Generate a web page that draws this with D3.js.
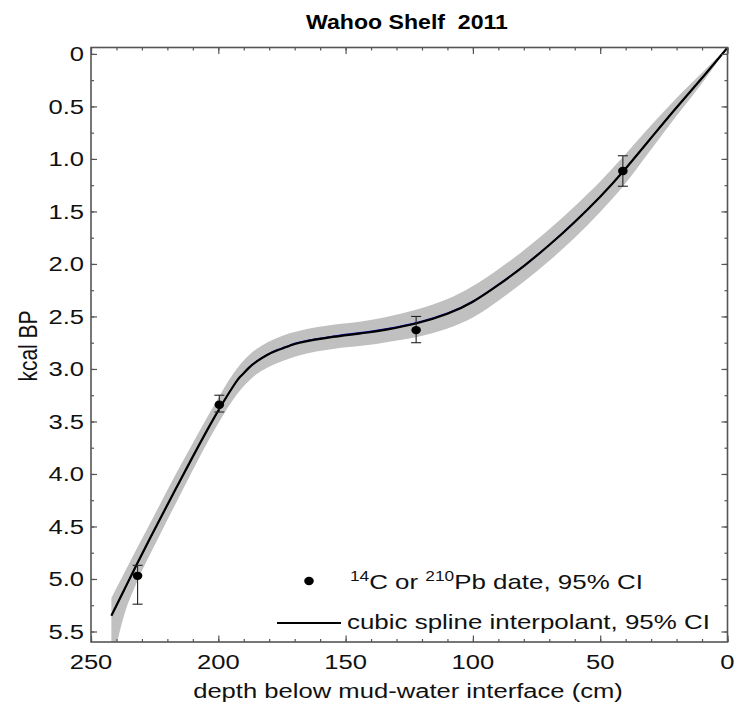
<!DOCTYPE html>
<html>
<head>
<meta charset="utf-8">
<script src="https://cdn.jsdelivr.net/npm/d3@7"></script>
<style>
  body { margin: 0; background: #fff; }
  text { font-family: "Liberation Sans", Arial, sans-serif; white-space: pre; }
</style>
</head>
<body>
<script>
// age model (depth in cm, age in kcal BP)
const depth  = [242, 237, 232, 224, 217, 211, 202, 194, 191, 188, 185, 181, 177, 172, 168, 155, 142, 134, 122, 110, 100, 90, 80, 70, 60, 50, 41, 30, 20, 10, 0];
const ageMid = [5.35, 5.105, 4.86, 4.48, 4.155, 3.88, 3.48, 3.16, 3.065, 2.99, 2.93, 2.87, 2.825, 2.78, 2.75, 2.695, 2.655, 2.625, 2.565, 2.475, 2.36, 2.20, 2.02, 1.82, 1.60, 1.36, 1.12, 0.80, 0.51, 0.23, -0.06];
const ageLo  = [5.18, 4.945, 4.71, 4.34, 4.015, 3.75, 3.36, 3.04, 2.945, 2.87, 2.81, 2.75, 2.705, 2.66, 2.635, 2.58, 2.54, 2.505, 2.435, 2.335, 2.21, 2.05, 1.87, 1.67, 1.45, 1.215, 0.98, 0.68, 0.42, 0.18, -0.06];
const ageHi  = [5.85, 5.345, 5.03, 4.63, 4.295, 4.01, 3.60, 3.285, 3.19, 3.115, 3.05, 2.99, 2.945, 2.90, 2.87, 2.81, 2.775, 2.745, 2.695, 2.615, 2.51, 2.35, 2.17, 1.97, 1.75, 1.505, 1.26, 0.91, 0.59, 0.28, -0.06];

// dated samples with 95% CI
const dateDepth = [231.7, 199.6, 122.3, 41.1];
const dateAge   = [4.97, 3.34, 2.63, 1.115];
const dateLo    = [4.87, 3.25, 2.50, 0.97];
const dateHi    = [5.24, 3.41, 2.75, 1.26];

const xTicks = [250, 200, 150, 100, 50, 0];
const yTicks = [0, 0.5, 1, 1.5, 2, 2.5, 3, 3.5, 4, 4.5, 5, 5.5];
const yTickLabels = ["0", "0.5", "1.0", "1.5", "2.0", "2.5", "3.0", "3.5", "4.0", "4.5", "5.0", "5.5"];

const W = 752, H = 710;
const pLeft = 91, pRight = 727.5, pTop = 47.5, pBottom = 642;
const stretch = 1.22;  // text in the original is horizontally widened

const x = d3.scaleLinear().domain([250, 0]).range([pLeft, pRight]);
const y = d3.scaleLinear().domain([-0.061, 5.6]).range([pTop, pBottom]);

const svg = d3.select("body").append("svg")
    .attr("width", W)
    .attr("height", H);

svg.append("rect").attr("width", W).attr("height", H).attr("fill", "#fff");

svg.append("clipPath").attr("id", "plot")
  .append("rect")
    .attr("x", pLeft).attr("y", pTop)
    .attr("width", pRight - pLeft).attr("height", pBottom - pTop);

const model = depth.map((d, i) => ({ depth: d, mid: ageMid[i], lo: ageLo[i], hi: ageHi[i] }));
const dates = dateDepth.map((d, i) => ({ depth: d, age: dateAge[i], lo: dateLo[i], hi: dateHi[i] }));

const g = svg.append("g").attr("clip-path", "url(#plot)");

// confidence band
g.append("path")
    .datum(model)
    .attr("fill", "#c0c0c0")
    .attr("d", d3.area()
      .x(d => x(d.depth))
      .y0(d => y(d.lo))
      .y1(d => y(d.hi))
      .curve(d3.curveMonotoneX));

const line = d3.line()
    .x(d => x(d.depth))
    .y(d => y(d.mid))
    .curve(d3.curveNatural);

// faint blue mean line peeking out under the median
g.append("path")
    .datum(model)
    .attr("fill", "none")
    .attr("stroke", "#1010c0")
    .attr("stroke-width", 1.2)
    .attr("transform", "translate(0.6,-0.9)")
    .attr("d", line);

g.append("path")
    .datum(model)
    .attr("fill", "none")
    .attr("stroke", "#000")
    .attr("stroke-width", 2.2)
    .attr("d", line);

// error bars
const eb = svg.append("g").attr("stroke", "#222").attr("stroke-width", 1.1);
eb.selectAll("line.v").data(dates).enter().append("line")
    .attr("x1", d => x(d.depth)).attr("x2", d => x(d.depth))
    .attr("y1", d => y(d.lo)).attr("y2", d => y(d.hi));
eb.selectAll("line.t").data(dates).enter().append("line")
    .attr("x1", d => x(d.depth) - 5).attr("x2", d => x(d.depth) + 5)
    .attr("y1", d => y(d.lo)).attr("y2", d => y(d.lo));
eb.selectAll("line.b").data(dates).enter().append("line")
    .attr("x1", d => x(d.depth) - 5).attr("x2", d => x(d.depth) + 5)
    .attr("y1", d => y(d.hi)).attr("y2", d => y(d.hi));

svg.append("g").selectAll("ellipse").data(dates).enter().append("ellipse")
    .attr("cx", d => x(d.depth))
    .attr("cy", d => y(d.age))
    .attr("rx", 4.8).attr("ry", 4.2)
    .attr("fill", "#000");

// axes: inward ticks on all four sides
const ax = "#555";
const xMinor = d3.range(250, -1, -10);
const yMinor = d3.range(0, 5.6, 0.25);

svg.append("g").attr("transform", `translate(0,${pBottom})`)
    .call(d3.axisBottom(x).tickValues(xMinor).tickSize(-3).tickFormat(""));
svg.append("g").attr("transform", `translate(0,${pBottom})`)
    .call(d3.axisBottom(x).tickValues(xTicks).tickSize(-6.5).tickFormat(""));
svg.append("g").attr("transform", `translate(0,${pTop})`)
    .call(d3.axisTop(x).tickValues(xMinor).tickSize(-3).tickFormat(""));
svg.append("g").attr("transform", `translate(0,${pTop})`)
    .call(d3.axisTop(x).tickValues(xTicks).tickSize(-6.5).tickFormat(""));
svg.append("g").attr("transform", `translate(${pLeft},0)`)
    .call(d3.axisLeft(y).tickValues(yMinor).tickSize(-3).tickFormat(""));
svg.append("g").attr("transform", `translate(${pLeft},0)`)
    .call(d3.axisLeft(y).tickValues(yTicks).tickSize(-6).tickFormat(""));
svg.append("g").attr("transform", `translate(${pRight},0)`)
    .call(d3.axisRight(y).tickValues(yMinor).tickSize(-3).tickFormat(""));
svg.append("g").attr("transform", `translate(${pRight},0)`)
    .call(d3.axisRight(y).tickValues(yTicks).tickSize(-6).tickFormat(""));

svg.selectAll(".domain").remove();
svg.selectAll(".tick line").attr("stroke", ax).attr("stroke-width", 1.2);

svg.append("rect")
    .attr("x", pLeft).attr("y", pTop)
    .attr("width", pRight - pLeft).attr("height", pBottom - pTop)
    .attr("fill", "none").attr("stroke", ax).attr("stroke-width", 1.6);

// tick labels
svg.append("g").selectAll("text").data(yTicks).enter().append("text")
    .attr("transform", d => `translate(84,${y(d) + 7.5}) scale(${stretch},1)`)
    .attr("text-anchor", "end")
    .attr("font-size", 21)
    .attr("fill", "#111")
    .text((d, i) => yTickLabels[i]);

svg.append("g").selectAll("text").data(xTicks).enter().append("text")
    .attr("transform", d => `translate(${x(d)},669) scale(${stretch},1)`)
    .attr("text-anchor", "middle")
    .attr("font-size", 21)
    .attr("fill", "#111")
    .text(d => d);

// title and axis labels
svg.append("text")
    .attr("transform", `translate(407,29) scale(1.1,1)`)
    .attr("text-anchor", "middle")
    .attr("font-size", 21)
    .attr("font-weight", "bold")
    .attr("fill", "#000")
    .text("Wahoo Shelf  2011");

svg.append("text")
    .attr("transform", `translate(408,698) scale(${stretch},1)`)
    .attr("text-anchor", "middle")
    .attr("font-size", 21)
    .attr("fill", "#111")
    .text("depth below mud-water interface (cm)");

svg.append("text")
    .attr("transform", `translate(37,346) rotate(-90) scale(1,${stretch})`)
    .attr("text-anchor", "middle")
    .attr("font-size", 21)
    .attr("fill", "#111")
    .text("kcal BP");

// legend
const lgStretch = 1.234;
const lg = svg.append("g");
lg.append("ellipse").attr("cx", 309).attr("cy", 581).attr("rx", 4.8).attr("ry", 4.2).attr("fill", "#000");
const t1 = lg.append("text")
    .attr("transform", `translate(350,589) scale(${lgStretch},1)`)
    .attr("font-size", 21)
    .attr("fill", "#111");
t1.append("tspan").attr("font-size", 14).attr("dy", -8).text("14");
t1.append("tspan").attr("dy", 8).text("C or ");
t1.append("tspan").attr("font-size", 14).attr("dy", -8).text("210");
t1.append("tspan").attr("dy", 8).text("Pb date, 95% CI");

lg.append("line").attr("x1", 277).attr("x2", 341).attr("y1", 623).attr("y2", 623)
    .attr("stroke", "#000").attr("stroke-width", 2);
lg.append("text")
    .attr("transform", `translate(347,629) scale(${lgStretch},1)`)
    .attr("font-size", 21)
    .attr("fill", "#111")
    .text("cubic spline interpolant, 95% CI");
</script>
</body>
</html>
